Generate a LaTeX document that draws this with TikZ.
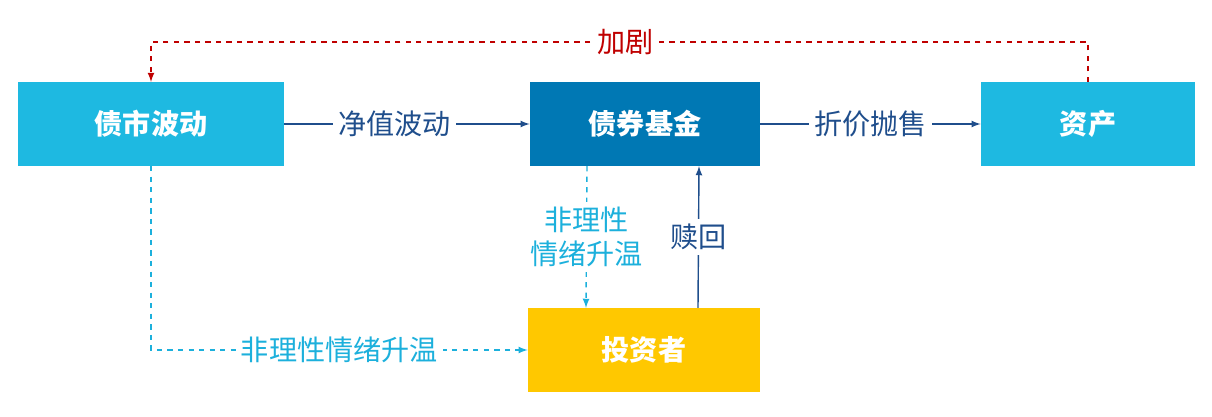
\documentclass[tikz,border=0pt]{standalone}
\usepackage{fontspec}
\setmainfont{Noto Sans CJK SC}
\usetikzlibrary{positioning,calc}
\definecolor{lightblue}{HTML}{1EB9E1}
\definecolor{darkblue}{HTML}{0078B4}
\definecolor{gold}{HTML}{FFC800}
\definecolor{navy}{HTML}{1F4E8C}
\definecolor{cyanlbl}{HTML}{1CB0DC}
\definecolor{darkred}{HTML}{C00000}
\tikzset{
  box/.style={fill=#1, text=white, font=\fontsize{16}{18}\selectfont\bfseries, minimum height=1.67cm, inner sep=0pt},
  lbl/.style={fill=white, font=\fontsize{16}{19}\selectfont, inner sep=3pt},
  arr/.style={-latex, line width=0.8pt}
}
\begin{document}
\begin{tikzpicture}
\useasboundingbox (0,0) rectangle (24.24,8.34);

% boxes
\node[box=lightblue, minimum width=5.32cm] (market) at (3.02,5.86) {债市波动};
\node[box=darkblue, minimum width=4.6cm] (fund) at (12.9,5.86) {债券基金};
\node[box=lightblue, minimum width=4.28cm] (asset) at (21.76,5.86) {资产};
\node[box=gold, minimum width=4.64cm] (investor) at (12.88,1.34) {投资者};

% top feedback loop
\draw[arr, darkred, dashed] (asset.north) |- (12.9,7.5) -| (market.north)
  node[pos=0.02, lbl, text=darkred] {加剧};

% main flow
\draw[arr, navy] (market) -- (fund) node[midway, lbl, text=navy, xshift=-0.25cm] {净值波动};
\draw[arr, navy] (fund) -- (asset) node[midway, lbl, text=navy] {折价抛售};

% between fund and investor
\draw[arr, cyanlbl, dashed] ([xshift=-1.16cm]fund.south) -- ([xshift=-1.16cm]investor.north)
  node[midway, lbl, text=cyanlbl, align=center, font=\fontsize{16}{19}\selectfont] {非理性\\情绪升温};
\draw[arr, navy] ([xshift=1.08cm]investor.north) -- ([xshift=1.08cm]fund.south)
  node[midway, lbl, text=navy] {赎回};

% bottom path
\draw[arr, cyanlbl, dashed] (market.south) |- (investor.west)
  node[pos=0.75, lbl, text=cyanlbl] {非理性情绪升温};
\end{tikzpicture}
\end{document}
